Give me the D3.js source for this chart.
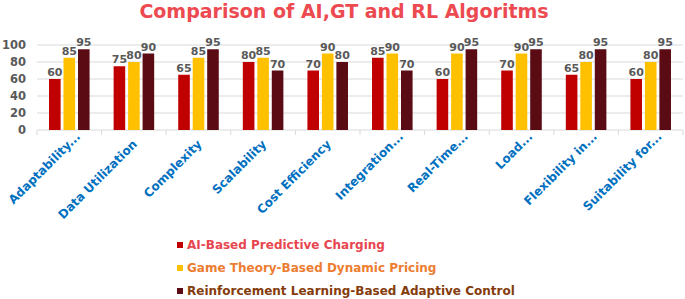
<!DOCTYPE html>
<html>
<head>
<meta charset="utf-8">
<script src="https://cdn.jsdelivr.net/npm/d3@7"></script>
<style>
	body { margin: 0; background: #fff; }
	svg { font-family: "DejaVu Sans", Verdana, sans-serif; font-weight: bold; }
</style>
</head>
<body>
<div id="chart"></div>
<script>
// Data
const categories = ["Adaptability...", "Data Utilization", "Complexity", "Scalability", "Cost Efficiency",
	"Integration...", "Real-Time...", "Load...", "Flexibility in...", "Suitability for..."];
const seriesNames = ["AI-Based Predictive Charging", "Game Theory-Based Dynamic Pricing",
	"Reinforcement Learning-Based Adaptive Control"];
const aiValues = [60, 75, 65, 80, 70, 85, 60, 70, 65, 60];
const gtValues = [85, 80, 85, 85, 90, 90, 90, 90, 80, 80];
const rlValues = [95, 90, 95, 70, 80, 70, 95, 95, 95, 95];
const yTicks = [0, 20, 40, 60, 80, 100];

const barColors = ["#c00000", "#ffc000", "#5a0b14"];
const legendColors = ["#e8464f", "#ed7d31", "#843c0c"];

const width = 685, height = 299;
const margin = {top: 45, right: 2, bottom: 169, left: 37};

const svg = d3.select("#chart").append("svg")
	.attr("width", width).attr("height", height);

// Title
svg.append("text")
	.attr("x", 344).attr("y", 18)
	.attr("text-anchor", "middle")
	.style("font-size", "19px")
	.attr("fill", "#ec4a50")
	.text("Comparison of AI,GT and RL Algoritms");

// Scales
const x0 = d3.scaleBand(categories, [margin.left, width - margin.right]).padding(0);
const x1 = d3.scaleBand(d3.range(3), [0, x0.bandwidth()]).paddingInner(0.2).paddingOuter(0.83);
const y = d3.scaleLinear([0, 100], [height - margin.bottom, margin.top]);

// Grid
svg.append("g").selectAll("line")
	.data(yTicks.slice(1))
	.join("line")
	.attr("x1", margin.left).attr("x2", width - margin.right)
	.attr("y1", d => y(d)).attr("y2", d => y(d))
	.attr("stroke", "#d9d9d9").attr("stroke-width", 1);

// Y axis (labels only)
const axisY = svg.append("g")
	.attr("transform", `translate(${margin.left},0)`)
	.call(d3.axisLeft(y).tickValues(yTicks).tickSize(0).tickPadding(11));
axisY.select(".domain").remove();
axisY.selectAll("text")
	.attr("fill", "#595959")
	.style("font-size", "11.5px")
	.style("font-family", "DejaVu Sans, sans-serif")
	.style("font-weight", "bold");

// X axis line with ticks at category boundaries
const baseY = y(0);
svg.append("line")
	.attr("x1", margin.left).attr("x2", width - margin.right)
	.attr("y1", baseY).attr("y2", baseY)
	.attr("stroke", "#d9d9d9");
svg.append("g").selectAll("line")
	.data(categories.map(c => x0(c)).concat([width - margin.right]))
	.join("line")
	.attr("x1", d => d).attr("x2", d => d)
	.attr("y1", baseY).attr("y2", baseY + 5)
	.attr("stroke", "#d9d9d9");

// Bars
const allSeries = [aiValues, gtValues, rlValues];
const rows = categories.map((c, i) => allSeries.map((vals, s) => ({cat: c, s, v: vals[i]})));

const groups = svg.append("g").selectAll("g")
	.data(rows)
	.join("g")
	.attr("transform", d => `translate(${x0(d[0].cat)},0)`);

groups.selectAll("rect")
	.data(d => d)
	.join("rect")
	.attr("x", d => x1(d.s))
	.attr("width", x1.bandwidth())
	.attr("y", d => y(d.v))
	.attr("height", d => y(0) - y(d.v))
	.attr("fill", d => barColors[d.s]);

groups.selectAll("text")
	.data(d => d)
	.join("text")
	.attr("x", d => x1(d.s) + x1.bandwidth() / 2)
	.attr("y", d => y(d.v) - 3)
	.attr("text-anchor", "middle")
	.attr("fill", "#595959")
	.style("font-size", "11px")
	.text(d => d.v);

// Category labels (truncated ones sit further up the diagonal, as in the original)
svg.append("g").selectAll("text")
	.data(categories)
	.join("text")
	.attr("transform", d => `translate(${x0(d) + x0.bandwidth() / 2 + 1},${baseY + 12}) rotate(-45)`)
	.attr("text-anchor", "end")
	.attr("dy", "0.35em")
	.attr("dx", d => d.endsWith("...") ? 11 : 0)
	.attr("fill", "#0070c0")
	.style("font-size", "12px")
	.text(d => d);

// Legend
const legend = svg.append("g").selectAll("g")
	.data(seriesNames)
	.join("g")
	.attr("transform", (d, i) => `translate(177,${245 + i * 23})`);
legend.append("rect")
	.attr("x", 0).attr("y", -3).attr("width", 6).attr("height", 6)
	.attr("fill", (d, i) => barColors[i]);
legend.append("text")
	.attr("x", 10).attr("dy", "0.35em")
	.attr("fill", (d, i) => legendColors[i])
	.style("font-size", "12px")
	.text(d => d);
</script>
</body>
</html>
